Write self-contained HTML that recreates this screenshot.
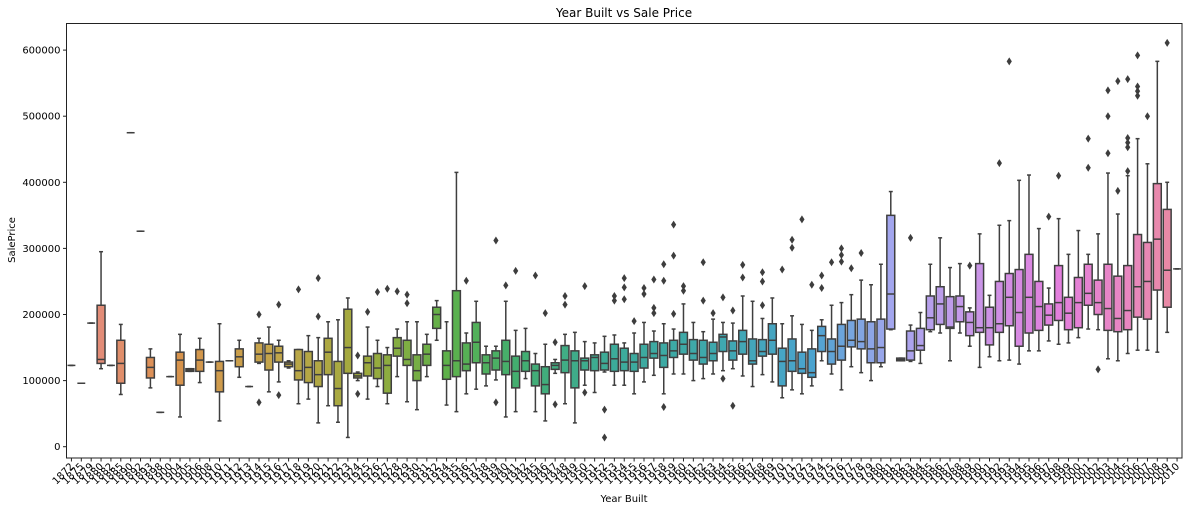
<!DOCTYPE html>
<html><head><meta charset="utf-8"><style>
html,body{margin:0;padding:0;background:#fff;}
svg{display:block;font-family:"DejaVu Sans","Liberation Sans",sans-serif;}
</style></head><body>
<svg id="chart" width="1196" height="512" viewBox="0 0 1196 512" xmlns="http://www.w3.org/2000/svg">
<text x="624" y="17" font-size="12" text-anchor="middle" fill="#000">Year Built vs Sale Price</text>
<text x="15" y="240" font-size="10" text-anchor="middle" fill="#000" transform="rotate(-90 15 240)">SalePrice</text>
<text x="624" y="502" font-size="10" text-anchor="middle" fill="#000">Year Built</text>
<g id="ygrid"></g><g id="marks"></g><g id="xticks"></g>
<rect x="66.5" y="23.5" width="1115.5" height="434.5" fill="none" stroke="#222" stroke-width="1"/>
</svg>
<script>
const years = [1872,1875,1879,1880,1882,1885,1890,1892,1893,1898,1900,1904,1905,1906,1908,
1910,1911,1912,1913,1914,1915,1916,1917,1918,1919,1920,1921,1922,1923,1924,1925,1926,1927,1928,1929,1930,1931,1932,
1934,1935,1936,1937,1938,1939,1940,1941,1942,1945,1946,1947,
1948,1949,1950,1951,1952,1953,1954,1955,1956,1957,1958,1959,1960,1961,1962,1963,1964,1965,1966,1967,1968,1969,
1970,1971,1972,1973,1974,1975,1976,1977,1978,1979,1980,1981,1982,1983,1984,1985,1986,1987,1988,1989,1990,1991,
1992,1993,1994,1995,1996,1997,1998,1999,2000,2001,2002,2003,2004,2005,2006,2007,2008,2009,2010];
const yTicks = [0,100000,200000,300000,400000,500000,600000];
// values in thousands of dollars
const whiskerLowK = [123,96,187,118,123,79,475,326,89,52,106,45,114,97,128,39,130,105,91,126,83,98,119,65,72,36,62,37,14,100,
72,91,65,106,68,56,106,161,63,53,80,87,92,101,45,53,103,53,39,111,65,36,93,82,113,93,93,80,98,108,
80,110,110,100,103,110,115,118,107,91,109,98,74,86,80,92,130,110,86,121,112,100,121,177,130,129,126,174,172,130,
172,152,120,136,130,131,125,145,145,160,155,157,165,178,177,133,130,141,146,146,143,173,269];
const q1K = [123,96,187,126,123,96,475,326,104,52,106,93,114,114,128,83,130,121,91,128,116,128,121,101,97,91,109,62,111,104,
107,103,81,137,123,100,123,179,102,106,115,127,110,116,109,89,114,92,80,117,112,89,116,115,116,114,115,114,119,134,
120,135,140,131,125,130,144,131,140,125,137,140,92,114,111,105,144,125,131,151,148,127,127,178,130,131,146,177,185,179,
189,168,173,154,173,183,152,172,176,184,191,177,180,214,200,176,174,177,196,193,237,211,269];
const medianK = [123,96,187,132,123,126,475,326,120,52,106,131,116,131,128,115,130,136,91,140,141,142,125,115,120,109,143,88,150,107,
127,119,123,149,132,115,140,200,123,130,125,158,127,134,129,114,130,115,94,123,131,130,130,135,126,133,128,128,135,141,
138,145,155,141,135,141,166,145,159,130,144,161,129,130,118,112,168,144,152,161,159,148,150,231,132,145,153,195,216,181,
212,188,180,180,186,226,203,226,212,199,218,202,218,232,218,209,194,206,242,250,314,267,269];
const q3K = [123,96,187,214,123,161,475,326,135,52,106,143,118,147,128,129,130,148,91,157,155,152,128,147,144,130,164,129,208,111,
137,141,139,165,161,139,155,211,145,236,157,188,139,145,161,137,144,125,121,127,153,145,134,139,143,155,149,141,155,159,
157,161,173,162,161,158,170,160,176,163,162,186,149,163,143,148,182,163,185,191,193,189,193,350,134,175,179,228,242,227,
228,204,277,211,250,262,268,291,250,216,274,226,256,276,252,276,258,274,321,309,398,359,269];
const whiskerHighK = [123,96,187,295,123,185,475,326,148,52,106,170,118,164,128,186,130,161,91,164,181,161,130,147,168,165,189,192,225,113,
181,161,150,178,189,189,170,221,189,415,172,220,152,152,220,176,179,141,155,132,170,173,159,157,167,169,157,172,188,175,
186,178,216,188,174,193,188,187,228,220,194,225,186,198,185,176,192,214,218,230,252,245,276,386,134,184,203,276,316,271,
277,210,322,229,335,342,403,411,330,240,345,291,327,291,322,414,352,410,466,428,583,400,269];
const outlierIdx = [19,19,21,21,23,25,25,29,29,30,31,32,33,34,34,40,43,43,44,45,47,48,49,49,50,50,52,52,54,54,55,55,56,56,56,57,58,58,
59,59,59,60,60,60,61,61,61,62,62,64,64,65,66,66,67,67,68,68,70,70,70,72,73,73,74,75,76,76,77,78,78,78,79,80,85,91,94,95,99,100,
103,103,104,105,105,105,106,106,107,107,107,107,107,108,108,108,108,109,111];
const outlierK = [200,67,215,78,238,255,197,138,80,204,234,239,235,230,217,251,312,67,244,266,259,202,158,64,228,215,243,82,56,14,228,221,255,241,223,190,240,231,
253,210,202,276,251,60,336,289,201,243,236,279,221,202,226,103,206,62,275,256,264,250,214,268,313,301,344,245,259,240,279,300,290,280,270,293,316,274,429,583,348,410,
466,422,117,539,500,444,553,387,556,467,460,453,417,592,545,538,531,500,611];

const L=66.5,R=1182,T=23.5,B=458;
const n=years.length, step=(R-L)/n;
const xc=i=>L+(i+0.5)*step;
const y=v=>446.7-v*0.000661;
const yk=k=>y(k*1000);
const NS="http://www.w3.org/2000/svg";
function mk(tag,attrs,parent){const e=document.createElementNS(NS,tag);for(const k in attrs)e.setAttribute(k,attrs[k]);parent.appendChild(e);return e;}
const stops=[[0,[230,138,138]],[10,[217,145,76]],[20,[197,165,75]],[30,[157,170,60]],[38,[94,177,74]],[45,[67,174,111]],[55,[60,171,154]],[65,[62,168,173]],[75,[74,163,207]],[83,[163,166,238]],[90,[196,154,233]],[100,[227,127,221]],[107,[232,135,192]],[112,[232,138,160]]];
function col(i){for(let s=0;s<stops.length-1;s++){const a=stops[s],b=stops[s+1];if(i<=b[0]){const t=(i-a[0])/(b[0]-a[0]);const c=a[1].map((v,j)=>Math.round(v+(b[1][j]-v)*t));return `rgb(${c})`;}}return 'rgb(232,138,160)';}
const yg=document.getElementById('ygrid');
yTicks.forEach(v=>{
  const t=mk('line',{x1:L-3.5,x2:L,y1:y(v),y2:y(v),stroke:'#222','stroke-width':1},yg);
  
  
  const tx=mk('text',{x:L-6,y:y(v)+3.5,'font-size':10,'text-anchor':'end',fill:'#000'},yg);
  tx.textContent=String(v);
  
  
});
const xt=document.getElementById('xticks');
years.forEach((yr,i)=>{
  const x=xc(i);
  const t=mk('line',{x1:x,x2:x,y1:B,y2:B+3.5,stroke:'#222','stroke-width':1},xt);
  
  
  const tx=mk('text',{x:x+3,y:B+9,'font-size':10,'text-anchor':'end',fill:'#000',transform:`rotate(-45 ${x+3} ${B+9})`},xt);
  tx.textContent=String(yr);
  
  
});
const mg=document.getElementById('marks');
const bw=step*0.8, lc='#3f3f3f';
years.forEach((yr,i)=>{
  const x=xc(i), g=mk('g',{},mg);
  
  
  const lo=yk(whiskerLowK[i]),q1=yk(q1K[i]),md=yk(medianK[i]),q3=yk(q3K[i]),hi=yk(whiskerHighK[i]);
  mk('line',{x1:x,x2:x,y1:q3,y2:hi,stroke:lc,'stroke-width':1.5},g);
  mk('line',{x1:x,x2:x,y1:q1,y2:lo,stroke:lc,'stroke-width':1.5},g);
  mk('line',{x1:x-bw/4,x2:x+bw/4,y1:hi,y2:hi,stroke:lc,'stroke-width':1.5},g);
  mk('line',{x1:x-bw/4,x2:x+bw/4,y1:lo,y2:lo,stroke:lc,'stroke-width':1.5},g);
  mk('rect',{x:x-bw/2,y:q3,width:bw,height:Math.max(q1-q3,0),fill:col(i),stroke:lc,'stroke-width':1.5},g);
  mk('line',{x1:x-bw/2,x2:x+bw/2,y1:md,y2:md,stroke:lc,'stroke-width':1.5},g);
});
outlierIdx.forEach((i,k)=>{
  const x=xc(i), yy=yk(outlierK[k]);
  const p=mk('polygon',{points:`${x},${yy-4} ${x+2.6},${yy} ${x},${yy+4} ${x-2.6},${yy}`,fill:'#3d3d3d'},mg);
  
  
});
</script>
</body></html>
